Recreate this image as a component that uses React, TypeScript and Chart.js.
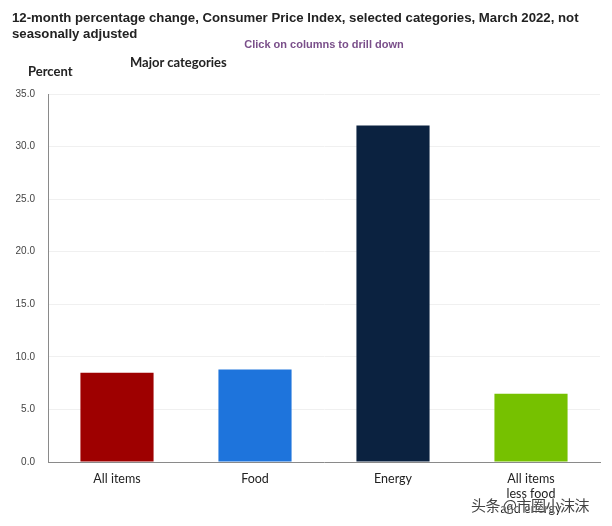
import React, { useEffect, useRef } from "react";
import { Chart, registerables } from "chart.js";

Chart.register(...registerables);

const categories: (string | string[])[] = ["All items", "Food", "Energy", ["All items", "less food", "and energy"]];
const values: number[] = [8.5, 8.8, 32.0, 6.5];
const barColors: string[] = ["#9e0000", "#1e74dc", "#0b2240", "#76c100"];
const yTicks: number[] = [0, 5, 10, 15, 20, 25, 30, 35];

export default function App() {
  const ref = useRef<HTMLCanvasElement | null>(null);
  useEffect(() => {
    document.body.style.margin = "0";
    if (!ref.current) return;
    const chart = new Chart(ref.current, {
      type: "bar",
      data: {
        labels: categories,
        datasets: [
          {
            data: values,
            backgroundColor: barColors,
            borderWidth: 0,
            categoryPercentage: 1,
            barPercentage: 0.53,
          },
        ],
      },
      options: {
        animation: false,
        responsive: false,
        maintainAspectRatio: false,
        layout: { padding: { left: 0, top: 94, right: 12, bottom: 0 } },
        plugins: { legend: { display: false }, tooltip: { enabled: false } },
        scales: {
          x: {
            afterFit: (s: any) => {
              s.height = 64;
            },
            grid: { display: false, drawTicks: false },
            border: { display: true, color: "#8a8a8a", width: 1 },
            ticks: {
              color: "#222",
              font: { family: "Lato", size: 12.5, lineHeight: 1.2 },
              padding: 9,
              maxRotation: 0,
              autoSkip: false,
            },
          },
          y: {
            min: 0,
            max: 35,
            afterFit: (s: any) => {
              s.width = 48;
            },
            afterBuildTicks: (s: any) => {
              s.ticks = yTicks.map((v) => ({ value: v }));
            },
            grid: { color: "#f0f0f0", drawTicks: false },
            border: { display: true, color: "#8a8a8a", width: 1 },
            ticks: {
              color: "#444",
              font: { family: "Liberation Sans", size: 10 },
              padding: 13,
              callback: (v: any) => Number(v).toFixed(1),
            },
          },
        },
      },
    });
    return () => chart.destroy();
  }, []);

  return (
    <div style={{ position: "relative", width: 612, height: 526, background: "#fff", overflow: "hidden" }}>
      <canvas ref={ref} width={612} height={526} style={{ position: "absolute", left: 0, top: 0, width: 612, height: 526 }} />
      <div
        style={{
          position: "absolute",
          left: 12,
          top: 10,
          width: 595,
          fontFamily: "Liberation Sans, Arial, sans-serif",
          fontWeight: "bold",
          fontSize: 13.2,
          lineHeight: "16px",
          color: "#222",
        }}
      >
        12-month percentage change, Consumer Price Index, selected categories, March 2022, not seasonally adjusted
      </div>
      <div
        style={{
          position: "absolute",
          left: 0,
          width: 648,
          top: 38,
          textAlign: "center",
          fontFamily: "Liberation Sans, Arial, sans-serif",
          fontWeight: "bold",
          fontSize: 11,
          color: "#7a4f8a",
        }}
      >
        Click on columns to drill down
      </div>
      <div
        style={{
          position: "absolute",
          left: 130,
          top: 54,
          fontFamily: "Lato, sans-serif",
          fontWeight: "bold",
          fontSize: 13,
          color: "#222",
        }}
      >
        Major categories
      </div>
      <div
        style={{
          position: "absolute",
          left: 28,
          top: 63,
          fontFamily: "Lato, sans-serif",
          fontWeight: "bold",
          fontSize: 13,
          color: "#222",
        }}
      >
        Percent
      </div>
      <div
        style={{
          position: "absolute",
          left: 471,
          top: 494,
          fontFamily: "Noto Sans CJK SC, sans-serif",
          fontSize: 15,
          letterSpacing: -0.5,
          color: "#444",
          textShadow: "0 0 2px #fff, 0 0 2px #fff",
        }}
      >
        头条 @市圈小沫沫
      </div>
    </div>
  );
}
